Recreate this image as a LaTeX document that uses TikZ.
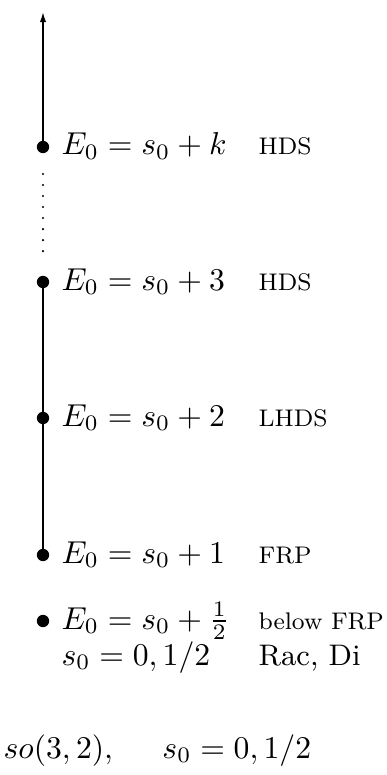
\documentclass[tikz,border=0pt]{standalone}
\usepackage{graphicx}
\usetikzlibrary{arrows.meta}
\begin{document}
\begin{tikzpicture}[x=0.316pt,y=-0.316pt,
  dotnode/.style={circle,fill=black,inner sep=0pt,minimum size=3.9pt},
  axisline/.style={line width=0.45pt},
  mathlbl/.style={anchor=base west,inner sep=0pt,font=\fontsize{10}{12}\selectfont},
  caplbl/.style={anchor=base west,inner sep=0pt,font=\fontsize{7.6}{9}\selectfont},
  txtlbl/.style={anchor=base west,inner sep=0pt,font=\fontsize{9.4}{11}\selectfont}]
\useasboundingbox (0,0) rectangle (386,775);
% bullets
\node[dotnode] (bk) at (43,147) {};
\node[dotnode] (b3) at (43,282) {};
\node[dotnode] (b2) at (43,418) {};
\node[dotnode] (b1) at (43,555) {};
\node[dotnode] (bh) at (43,621) {};
\coordinate (top) at (43,12);
\coordinate (d1) at (43,174);
\coordinate (d2) at (43,262);
% axis
\draw[axisline,-{Latex[length=3.2pt,width=2pt]}] (bk.center) -- (top);
\draw[line width=0.75pt,line cap=round,dash pattern=on 0pt off 3.48pt] (d1) -- (d2);
\draw[axisline] (b3.center) -- (b2.center) -- (b1.center);
% labels
\node[mathlbl] (lk) at (61,155) {$E_0 = s_0 + k$};
\node[mathlbl] (l3) at (61,290) {$E_0 = s_0 + 3$};
\node[mathlbl] (l2) at (61,426) {$E_0 = s_0 + 2$};
\node[mathlbl] (l1) at (61,563) {$E_0 = s_0 + 1$};
\node[mathlbl] (lh) at (61,629) {$E_0 = s_0 + \frac{1}{2}$};
\node[mathlbl] (ls) at (61,665) {$s_0 = 0, 1/2$};
\node[caplbl] (tk) at (258,155) {HDS};
\node[caplbl] (t3) at (258,290) {HDS};
\node[caplbl] (t2) at (258,426) {LHDS};
\node[caplbl] (t1) at (258,563) {FRP};
\node[caplbl] (th) at (258,629) {below FRP};
\node[txtlbl] (ts) at (258,665) {Rac, Di};
\node[mathlbl] (so) at (3,758) {$so(3,2),\hspace{14pt} s_0 = 0, 1/2$};
\end{tikzpicture}
\end{document}
